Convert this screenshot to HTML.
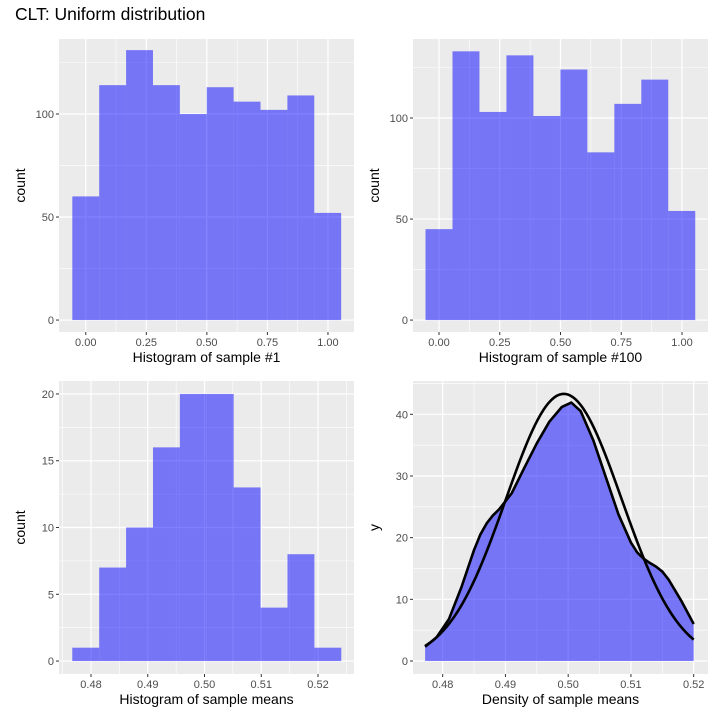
<!DOCTYPE html>
<html><head><meta charset="utf-8"><style>
html,body{margin:0;padding:0;background:#fff;}
svg{display:block;font-family:"Liberation Sans",sans-serif;}
</style></head><body>
<svg id="c" width="723" height="723" viewBox="0 0 723 723">
<text x="15" y="20" font-size="17.5" fill="#000">CLT: Uniform distribution</text>
</svg>
<script>
// ---- data ----
const hist1Start = -0.0555, hist1Width = 0.111;
const hist1Counts = [60, 114, 131, 114, 100, 113, 106, 102, 109, 52];
const hist100Start = -0.0555, hist100Width = 0.111;
const hist100Counts = [45, 133, 103, 131, 101, 124, 83, 107, 119, 54];
const meansStart = 0.4767, meansWidth = 0.00474;
const meansCounts = [1, 7, 10, 16, 20, 20, 13, 4, 8, 1];
const kdeX = [0.4772,0.479,0.481,0.483,0.485,0.486,0.487,0.488,0.489,0.491,0.493,0.495,0.497,0.499,0.5005,0.502,0.504,0.506,0.508,0.510,0.511,0.512,0.513,0.514,0.515,0.516,0.518,0.520];
const kdeY = [2.3,3.8,6.8,12,18,20.5,22.3,23.6,24.6,27.2,31.3,35.3,38.8,41.2,41.9,40.5,35.8,29.8,23.8,19.2,17.6,16.6,15.9,15.3,14.5,13.2,9.8,6];
const normMean = 0.4993, normSd = 0.00921;
const ticks01 = [0, 0.25, 0.5, 0.75, 1.0];
const ticks01Labels = ["0.00","0.25","0.50","0.75","1.00"];
const ticksMeans = [0.48, 0.49, 0.50, 0.51, 0.52];
const ticksMeansLabels = ["0.48","0.49","0.50","0.51","0.52"];

const NS = "http://www.w3.org/2000/svg";
const svg = document.getElementById('c');
function el(tag, attrs, parent){ const e=document.createElementNS(NS,tag); for(const k in attrs) e.setAttribute(k,attrs[k]); (parent||svg).appendChild(e); return e; }

function panel(name, px, py, pw, ph, xmin, xmax, ymin, ymax, xt, xtl, yt, ytl, xtitle, ytitle){
  const g = el('g',{});
  
  
  const sx = v => px + (v - xmin) / (xmax - xmin) * pw;
  const sy = v => py + ph - (v - ymin) / (ymax - ymin) * ph;
  const bg = el('rect',{x:px,y:py,width:pw,height:ph,fill:'#ebebeb'},g);
  
  
  for(let i=0;i<xt.length-1;i++){ const m=(xt[i]+xt[i+1])/2; el('line',{x1:sx(m),x2:sx(m),y1:py,y2:py+ph,stroke:'#fff','stroke-width':0.6},g); }
  { const m0 = xt[0]-(xt[1]-xt[0])/2; if(sx(m0)>px) el('line',{x1:sx(m0),x2:sx(m0),y1:py,y2:py+ph,stroke:'#fff','stroke-width':0.6},g);
    const m1 = xt[xt.length-1]+(xt[1]-xt[0])/2; if(sx(m1)<px+pw) el('line',{x1:sx(m1),x2:sx(m1),y1:py,y2:py+ph,stroke:'#fff','stroke-width':0.6},g); }
  const ys = yt[1]-yt[0];
  for(let v=yt[0]-ys/2; v<=ymax+ys; v+=ys){ const y=sy(v); if(y>py&&y<py+ph) el('line',{x1:px,x2:px+pw,y1:y,y2:y,stroke:'#fff','stroke-width':0.6},g); }
  xt.forEach((v,i)=>{ const x=sx(v);
    el('line',{x1:x,x2:x,y1:py,y2:py+ph,stroke:'#fff','stroke-width':1.2},g);
    el('line',{x1:x,x2:x,y1:py+ph,y2:py+ph+3,stroke:'#333','stroke-width':1},g);
    const t=el('text',{x:x,y:py+ph+14,'font-size':11,fill:'#4d4d4d','text-anchor':'middle'},g); t.textContent=xtl[i];
    
    
  });
  yt.forEach((v,i)=>{ const y=sy(v);
    el('line',{x1:px,x2:px+pw,y1:y,y2:y,stroke:'#fff','stroke-width':1.2},g);
    el('line',{x1:px-3,x2:px,y1:y,y2:y,stroke:'#333','stroke-width':1},g);
    const t=el('text',{x:px-5,y:y+4,'font-size':11,fill:'#4d4d4d','text-anchor':'end'},g); t.textContent=ytl[i];
    
    
  });
  const xtt=el('text',{x:px+pw/2,y:py+ph+30,'font-size':14,fill:'#000','text-anchor':'middle'},g); xtt.textContent=xtitle;
  
  
  const ytt=el('text',{x:0,y:0,'font-size':14,fill:'#000','text-anchor':'middle',transform:`translate(${px-34},${py+ph/2}) rotate(-90)`},g); ytt.textContent=ytitle;
  
  
  return {g,sx,sy};
}

function bars(p, start, width, counts, name){
  counts.forEach((c,i)=>{
    const x0=p.sx(start+i*width), x1=p.sx(start+(i+1)*width);
    const r=el('rect',{x:x0,y:p.sy(c),width:x1-x0,height:p.sy(0)-p.sy(c),fill:'#0000ff','fill-opacity':0.5},p.g);
    
    
  });
}

const p1 = panel('histogram-sample-1', 59, 39, 295, 293, -0.1105, 1.1075, -5.8, 136.4,
  ticks01, ticks01Labels, [0,50,100], ["0","50","100"], 'Histogram of sample #1', 'count');
bars(p1, hist1Start, hist1Width, hist1Counts, 'sample-1');
const p2 = panel('histogram-sample-100', 413, 39, 295, 293, -0.107, 1.107, -5.9, 139.1,
  ticks01, ticks01Labels, [0,50,100], ["0","50","100"], 'Histogram of sample #100', 'count');
bars(p2, hist100Start, hist100Width, hist100Counts, 'sample-100');
const p3 = panel('histogram-sample-means', 59, 381, 295, 293, 0.47436, 0.52634, -0.97, 20.97,
  ticksMeans, ticksMeansLabels, [0,5,10,15,20], ["0","5","10","15","20"], 'Histogram of sample means', 'count');
bars(p3, meansStart, meansWidth, meansCounts, 'means');
const p4 = panel('density-sample-means', 413, 381, 295, 293, 0.47527, 0.52228, -2.11, 45.4,
  ticksMeans, ticksMeansLabels, [0,10,20,30,40], ["0","10","20","30","40"], 'Density of sample means', 'y');
let d = `M${p4.sx(kdeX[0])},${p4.sy(0)}`;
kdeX.forEach((x,i)=>{ d += ` L${p4.sx(x)},${p4.sy(kdeY[i])}`; });
d += ` L${p4.sx(kdeX[kdeX.length-1])},${p4.sy(0)} Z`;
const area = el('path',{d:d,fill:'#0000ff','fill-opacity':0.5},p4.g);


let dl = kdeX.map((x,i)=>(i?'L':'M')+p4.sx(x)+','+p4.sy(kdeY[i])).join(' ');
const kl = el('path',{d:dl,fill:'none',stroke:'#000','stroke-width':2.6,'stroke-linejoin':'round'},p4.g);


let dn = '';
const nx0 = kdeX[0], nx1 = kdeX[kdeX.length-1];
for(let i=0;i<=100;i++){ const x=nx0+(nx1-nx0)*i/100; const y=Math.exp(-0.5*((x-normMean)/normSd)**2)/(normSd*Math.sqrt(2*Math.PI)); dn += (i?'L':'M')+p4.sx(x)+','+p4.sy(y)+' '; }
const nl = el('path',{d:dn,fill:'none',stroke:'#000','stroke-width':2.6,'stroke-linejoin':'round'},p4.g);


</script>
</body></html>
